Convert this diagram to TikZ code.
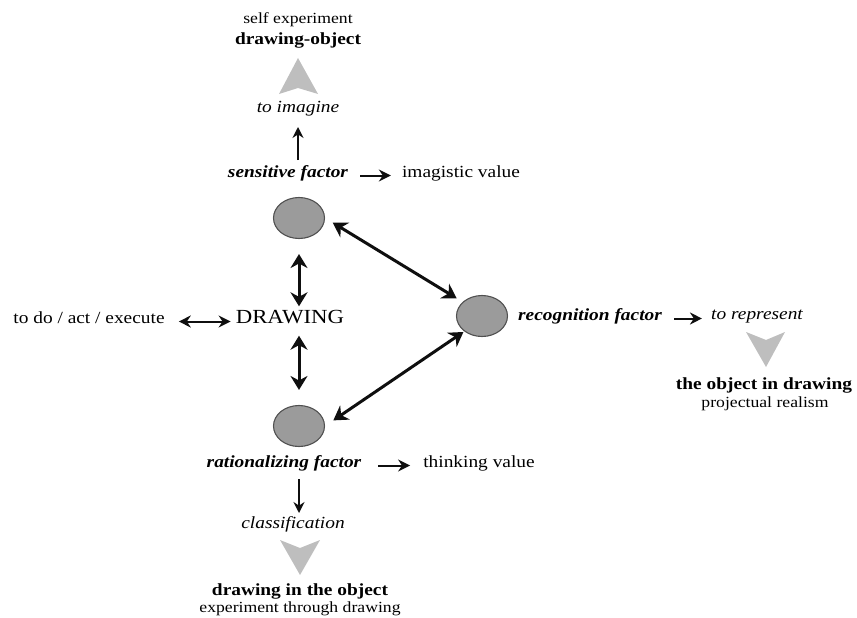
\documentclass[tikz,border=0pt]{standalone}
\usepackage{fontspec}
\setmainfont{Liberation Serif}[FakeStretch=1.14]
\usepackage{tikz}
\usetikzlibrary{arrows.meta, positioning, calc, shapes.geometric}
\definecolor{mydark}{RGB}{15,15,15}
\definecolor{ovalfill}{RGB}{155,155,155}
\definecolor{ovaldraw}{RGB}{80,80,80}
\definecolor{headgray}{RGB}{190,190,190}
\tikzset{
  txt/.style={font=\fontsize{17}{20}\selectfont, text height=0.68em,
    text depth=0.22em, inner sep=1pt},
  smalltxt/.style={font=\fontsize{15.5}{18}\selectfont, text height=0.68em,
    text depth=0.22em, inner sep=1pt},
  factor/.style={txt, font=\fontsize{17}{20}\selectfont\bfseries\itshape},
  oval/.style={ellipse, draw=ovaldraw, fill=ovalfill, line width=1.1pt,
    minimum width=51pt, minimum height=41pt, inner sep=0pt},
  bigarrow/.style={{Stealth[length=14pt,width=17pt]}-{Stealth[length=14pt,width=17pt]},
    line width=3pt, color=mydark},
  arrow/.style={-{Stealth[length=12pt,width=12pt]}, line width=2pt, color=mydark},
  dblarrow/.style={{Stealth[length=12pt,width=12pt]}-{Stealth[length=12pt,width=12pt]},
    line width=2pt, color=mydark},
  thinarrow/.style={-{Stealth[length=11pt,width=11pt]}, line width=1.5pt, color=mydark}
}
\begin{document}
\begin{tikzpicture}[x=1pt, y=-1pt]
  \useasboundingbox (0,0) rectangle (857,618);

  % Sensitive branch
  \node[smalltxt] (selfexp) at (298,21.5) {self experiment};
  \node[txt, font=\fontsize{17}{20}\selectfont\bfseries] (drobj) at (298,42.5) {drawing-object};
  \fill[headgray] (298,58) -- (318,94) -- (298,88) -- (279,94) -- cycle;
  \node[txt, font=\fontsize{17}{20}\selectfont\itshape] (imagine) at (298,110.5) {to imagine};
  \node[factor] (sensf) at (288,175.5) {sensitive factor};
  \node[txt] (imagval) at (461,175.5) {imagistic value};
  \node[oval] (sens) at (299,218) {};
  \draw[thinarrow, shorten <=9.8pt, shorten >=10.8pt] (sensf.north -| imagine) -- (imagine.south);
  \draw[arrow, shorten <=11pt, shorten >=10pt] (sensf.east) -- (imagval.west);

  % Centre
  \node[txt, font=\fontsize{20}{24}\selectfont] (drawing) at (290,321.5) {DRAWING};
  \node[txt] (todo) at (89,321.5) {to do / act / execute};
  \draw[dblarrow, shorten <=13pt, shorten >=4pt] (todo.east) -- (drawing.west);
  \draw[bigarrow, shorten <=15pt, shorten >=9.5pt] (sens.south) -- (sens |- drawing.north);

  % Recognition branch
  \node[oval] (rec) at (482,316) {};
  \node[factor] (recf) at (590,318.5) {recognition factor};
  \node[txt, font=\fontsize{17}{20}\selectfont\itshape] (repr) at (757,317.5) {to represent};
  \draw[arrow, shorten <=11pt, shorten >=8pt] (recf.east) -- (repr.west |- recf.east);
  \fill[headgray] (746,332) -- (766,340) -- (785,332) -- (766,367) -- cycle;
  \node[txt, font=\fontsize{17}{20}\selectfont\bfseries] (objdr) at (764,387.5) {the object in drawing};
  \node[smalltxt] (projreal) at (765,405.5) {projectual realism};

  % Rationalizing branch
  \node[oval] (rat) at (299,426) {};
  \draw[bigarrow, shorten <=8.5pt, shorten >=15pt] (rat |- drawing.south) -- (rat.north);
  \node[factor] (ratf) at (284,465.5) {rationalizing factor};
  \node[txt] (thinkval) at (479,465.5) {thinking value};
  \draw[arrow, shorten <=16pt, shorten >=12pt] (ratf.east) -- (thinkval.west);
  \node[txt, font=\fontsize{17}{20}\selectfont\itshape] (classif) at (293,526.5) {classification};
  \draw[thinarrow, shorten <=8pt, shorten >=7.8pt] (ratf.south -| rat) -- (classif.north -| rat);
  \fill[headgray] (280,540) -- (300,548) -- (320,540) -- (300,575) -- cycle;
  \node[txt, font=\fontsize{17}{20}\selectfont\bfseries] (drinobj) at (300,593.5) {drawing in the object};
  \node[smalltxt] (expthr) at (300,610.5) {experiment through drawing};

  % Diagonal links
  \draw[bigarrow, shorten <=9pt, shorten >=7pt] (sens.east) -- (rec.144);
  \draw[bigarrow, shorten <=10pt, shorten >=1pt] (rat.east) -- (rec.221);
\end{tikzpicture}
\end{document}
